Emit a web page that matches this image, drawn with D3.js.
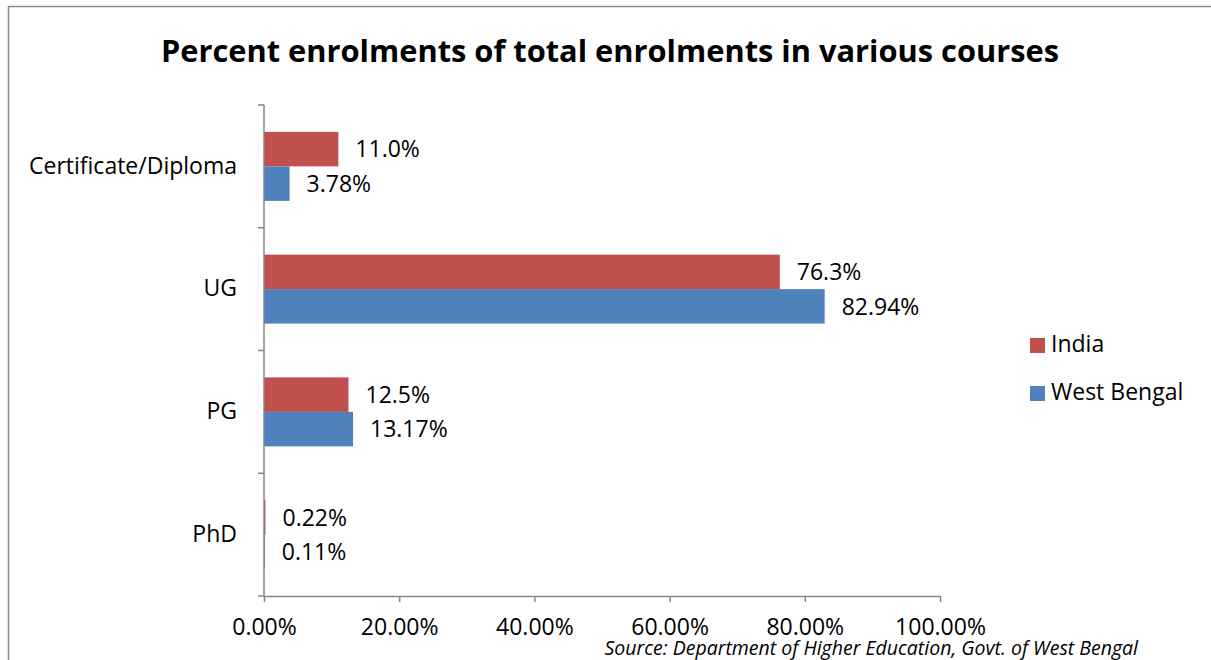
<!DOCTYPE html>
<html>
<head>
<meta charset="utf-8">
<script src="https://cdn.jsdelivr.net/npm/d3@7"></script>
<style>
  html, body { margin: 0; padding: 0; background: #fff; }
  svg { display: block; }
  text { font-family: "Open Sans", Lato, sans-serif; fill: #000; }
</style>
</head>
<body>
<svg id="chart" width="1211" height="660"></svg>
<script>
// Course categories, top to bottom
const categories = ["Certificate/Diploma", "UG", "PG", "PhD"];
// Series names and colours
const seriesNames = ["India", "West Bengal"];
const seriesColors = ["#C0504D", "#4F81BD"];
// Share of total enrolments (%)
const indiaValues = [11.0, 76.3, 12.5, 0.22];
const westBengalValues = [3.78, 82.94, 13.17, 0.11];
// Printed value labels
const indiaLabels = ["11.0%", "76.3%", "12.5%", "0.22%"];
const westBengalLabels = ["3.78%", "82.94%", "13.17%", "0.11%"];
// X axis ticks
const xTicks = [0, 20, 40, 60, 80, 100];

const seriesValues = [indiaValues, westBengalValues];
const seriesLabels = [indiaLabels, westBengalLabels];

const svg = d3.select("#chart");
const axisColor = "#868686";
const labelSize = "23px";

// Outer frame
svg.append("path")
  .attr("d", "M8.5,660 L8.5,6.5 L1211,6.5")
  .attr("fill", "none").attr("stroke", "#8a8a8a").attr("stroke-width", 1.5);

// Title
svg.append("text")
  .attr("x", 610).attr("y", 62)
  .attr("text-anchor", "middle")
  .style("font-size", "30.8px").style("font-weight", "bold")
  .text("Percent enrolments of total enrolments in various courses");

const plot = { left: 264, right: 940, top: 105, bottom: 596 };

const x = d3.scaleLinear().domain([0, 100]).range([plot.left, plot.right]);
const y = d3.scaleBand().domain(categories)
  .range([plot.top, plot.bottom])
  .paddingInner(0.438).paddingOuter(0.219);
const ySub = d3.scaleBand().domain(seriesNames).range([0, y.bandwidth()]);

// Bars and value labels
categories.forEach((cat, i) => {
  seriesNames.forEach((s, j) => {
    const v = seriesValues[j][i];
    const y0 = y(cat) + ySub(s);
    svg.append("rect")
      .attr("x", x(0)).attr("y", y0)
      .attr("width", Math.max(x(v) - x(0), 0.8))
      .attr("height", ySub.bandwidth())
      .attr("fill", seriesColors[j]);
    svg.append("text")
      .attr("x", x(v) + 17)
      .attr("y", y0 + ySub.bandwidth() / 2 + 2)
      .attr("dominant-baseline", "middle")
      .style("font-size", labelSize)
      .text(seriesLabels[j][i]);
  });
});

// Y axis line with boundary ticks
svg.append("line")
  .attr("x1", x(0)).attr("x2", x(0))
  .attr("y1", plot.top).attr("y2", plot.bottom)
  .attr("stroke", axisColor).attr("stroke-width", 1.5);
const step = y.step();
d3.range(categories.length + 1).forEach(k => {
  const yy = plot.top + k * step;
  svg.append("line")
    .attr("x1", x(0) - 6).attr("x2", x(0))
    .attr("y1", yy).attr("y2", yy)
    .attr("stroke", axisColor).attr("stroke-width", 1.5);
});

// Category labels
categories.forEach(cat => {
  svg.append("text")
    .attr("x", 237)
    .attr("y", y(cat) + y.bandwidth() / 2 + 1)
    .attr("text-anchor", "end")
    .attr("dominant-baseline", "middle")
    .style("font-size", labelSize)
    .text(cat);
});

// X axis
const xAxis = d3.axisBottom(x).tickValues(xTicks)
  .tickSize(6).tickSizeOuter(0)
  .tickFormat(d => d.toFixed(2) + "%");
const gx = svg.append("g")
  .attr("transform", `translate(0,${plot.bottom})`)
  .call(xAxis);
gx.select(".domain").attr("stroke", axisColor).attr("stroke-width", 1.5);
gx.selectAll(".tick line").attr("stroke", axisColor).attr("stroke-width", 1.5);
gx.selectAll(".tick text")
  .attr("y", 31).attr("dy", "0.35em")
  .style("font-size", labelSize).style("font-family", "'Open Sans', Lato, sans-serif")
  .attr("fill", "#000");

// Legend
seriesNames.forEach((s, j) => {
  const ly = 345 + j * 48;
  svg.append("rect")
    .attr("x", 1030).attr("y", ly - 7)
    .attr("width", 15).attr("height", 15)
    .attr("fill", seriesColors[j]);
  svg.append("text")
    .attr("x", 1051).attr("y", ly + 1)
    .attr("dominant-baseline", "middle")
    .style("font-size", labelSize)
    .text(s);
});

// Source note
svg.append("text")
  .attr("x", 1138).attr("y", 655)
  .attr("text-anchor", "end")
  .style("font-size", "19.5px").style("font-style", "italic")
  .text("Source: Department of Higher Education, Govt. of West Bengal");
</script>
</body>
</html>
